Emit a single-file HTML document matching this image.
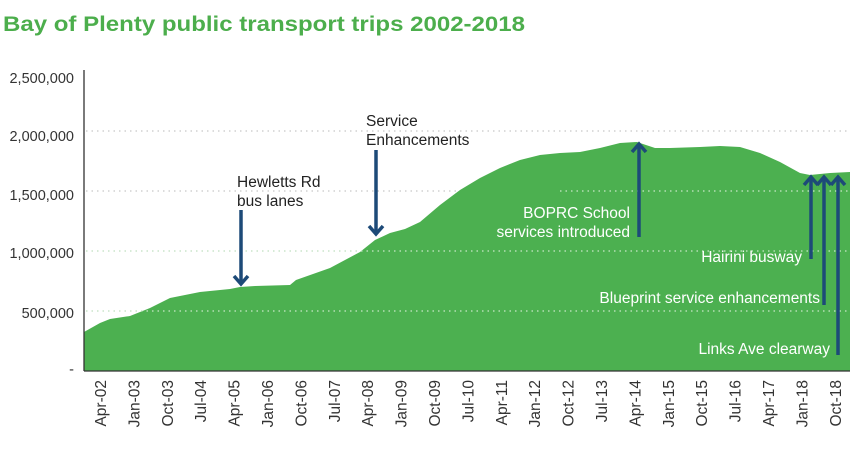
<!DOCTYPE html>
<html><head><meta charset="utf-8"><style>
html,body{margin:0;padding:0;background:#fff;}
svg{display:block;font-family:"Liberation Sans",sans-serif;}
</style></head><body>
<svg width="850" height="460" viewBox="0 0 850 460" xmlns="http://www.w3.org/2000/svg">
<text x="3" y="31" font-size="21" font-weight="bold" fill="#4cae4c" textLength="522" lengthAdjust="spacingAndGlyphs">Bay of Plenty public transport trips 2002-2018</text>
<g stroke="#c8c8c8" stroke-width="1.3" stroke-dasharray="1.5,4">
<line x1="86" y1="131" x2="850" y2="131"/>
<line x1="86" y1="191" x2="850" y2="191"/>
<line x1="86" y1="251" x2="850" y2="251"/>
<line x1="86" y1="311" x2="850" y2="311"/>
</g>
<path fill="#4cb050" d="M84,332 L100,323 L110,319 L130,316 L150,308 L170,298 L200,292 L230,289 L240,287 L255,286 L290,285 L296,280 L330,268 L360,252 L375,240 L390,233 L405,229 L420,222 L440,205 L460,190 L480,178 L500,168 L520,160 L540,155 L560,153 L580,152 L600,148 L620,143 L637,142 L655,148 L670,148 L700,147 L720,146 L740,147 L760,153 L780,162 L800,173 L810,175 L830,173 L850,172 L850,371 L84,371 Z"/>
<g stroke="#c8e8c8" stroke-width="1.3" stroke-dasharray="1.5,4">
<line x1="560" y1="191" x2="850" y2="191"/>
<line x1="86" y1="251" x2="850" y2="251"/>
<line x1="86" y1="311" x2="850" y2="311"/>
</g>
<line x1="84" y1="70" x2="84" y2="371" stroke="#333" stroke-width="1.3"/>
<line x1="84" y1="371" x2="850" y2="371" stroke="#333" stroke-width="1.3"/>
<g font-size="14.5" fill="#333" text-anchor="end">
<text x="74" y="83">2,500,000</text>
<text x="74" y="141">2,000,000</text>
<text x="74" y="200">1,500,000</text>
<text x="74" y="258">1,000,000</text>
<text x="74" y="318">500,000</text>
<text x="74" y="374">-</text>
</g>
<g font-size="15.5" fill="#333" text-anchor="end">
<text transform="translate(106,380) rotate(-90)">Apr-02</text>
<text transform="translate(139.4,380) rotate(-90)">Jan-03</text>
<text transform="translate(172.8,380) rotate(-90)">Oct-03</text>
<text transform="translate(206.2,380) rotate(-90)">Jul-04</text>
<text transform="translate(239.6,380) rotate(-90)">Apr-05</text>
<text transform="translate(273,380) rotate(-90)">Jan-06</text>
<text transform="translate(306.4,380) rotate(-90)">Oct-06</text>
<text transform="translate(339.8,380) rotate(-90)">Jul-07</text>
<text transform="translate(373.2,380) rotate(-90)">Apr-08</text>
<text transform="translate(406.6,380) rotate(-90)">Jan-09</text>
<text transform="translate(440,380) rotate(-90)">Oct-09</text>
<text transform="translate(473.4,380) rotate(-90)">Jul-10</text>
<text transform="translate(506.8,380) rotate(-90)">Apr-11</text>
<text transform="translate(540.2,380) rotate(-90)">Jan-12</text>
<text transform="translate(573.6,380) rotate(-90)">Oct-12</text>
<text transform="translate(607,380) rotate(-90)">Jul-13</text>
<text transform="translate(640.4,380) rotate(-90)">Apr-14</text>
<text transform="translate(673.8,380) rotate(-90)">Jan-15</text>
<text transform="translate(707.2,380) rotate(-90)">Oct-15</text>
<text transform="translate(740.6,380) rotate(-90)">Jul-16</text>
<text transform="translate(774,380) rotate(-90)">Apr-17</text>
<text transform="translate(807.4,380) rotate(-90)">Jan-18</text>
<text transform="translate(840.8,380) rotate(-90)">Oct-18</text>
</g>
<g stroke="#1d4a78" stroke-width="3.5" fill="none">
<line x1="241" y1="210" x2="241" y2="283"/><polyline points="234,276 241,284 248,276"/>
<line x1="376" y1="150" x2="376" y2="233"/><polyline points="369,226 376,234 383,226"/>
<line x1="639" y1="237" x2="639" y2="145"/><polyline points="632,152 639,144 646,152"/>
<line x1="811" y1="259" x2="811" y2="178"/><polyline points="804,185 811,177 818,185"/>
<line x1="824" y1="305" x2="824" y2="178"/><polyline points="817,185 824,177 831,185"/>
<line x1="838" y1="355" x2="838" y2="178"/><polyline points="831,185 838,177 845,185"/>
</g>
<g font-size="15.5" fill="#222">
<text x="237" y="187">Hewletts Rd</text>
<text x="237" y="206">bus lanes</text>
<text x="366" y="126">Service</text>
<text x="366" y="145">Enhancements</text>
</g>
<g font-size="15.5" fill="#fff" text-anchor="end">
<text x="630" y="218">BOPRC School</text>
<text x="630" y="237">services introduced</text>
<text x="802" y="262">Hairini busway</text>
<text x="820" y="303">Blueprint service enhancements</text>
<text x="830" y="354">Links Ave clearway</text>
</g>
</svg>
</body></html>
